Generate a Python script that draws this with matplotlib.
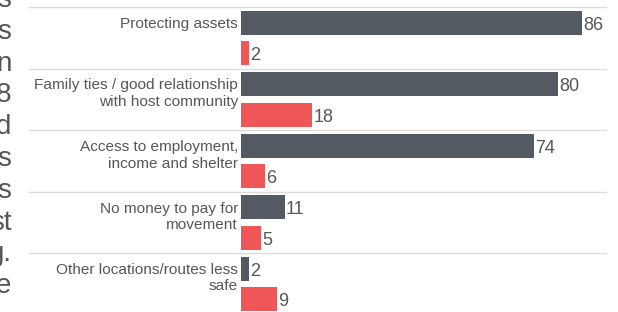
import matplotlib.pyplot as plt

plt.rcParams['font.family'] = ['Liberation Sans', 'DejaVu Sans']

# data
categories = ['Protecting assets',
              'Family ties / good relationship\nwith host community',
              'Access to employment,\nincome and shelter',
              'No money to pay for\nmovement',
              'Other locations/routes less\nsafe']
series_dark = [86, 80, 74, 11, 2]
series_red = [2, 18, 6, 5, 9]
# cut-off body text visible at the left edge of the screenshot
side_words = ['s', 's', 'n', '8', 'd', 's', 's', 'st', 'g.', 'e']

DARK = '#535a61'
RED = '#ef5657'
TXT = '#575757'

W, H = 618, 312
fig = plt.figure(figsize=(W / 100, H / 100), dpi=100)

# axes placed so that x=0 sits at the bars' left edge
x0, x1 = 241, 606
ax = fig.add_axes([x0 / W, 0, (x1 - x0) / W, 1])
px_per_unit = 3.965
pitch = 61.5          # pixels per category
top_off = 38 / pitch  # first group centre from top
ax.set_xlim(0, (x1 - x0) / px_per_unit)
ax.set_ylim((H - 38) / pitch, -top_off)
ax.axis('off')

off = 0.252
bh = 24 / pitch
ys = list(range(len(categories)))
ax.barh([y - off for y in ys], series_dark, height=bh, color=DARK)
ax.barh([y + off for y in ys], series_red, height=bh, color=RED)

# separators
for y in ys:
    ax.axhline(y - 0.5, xmin=(29 - x0) / (x1 - x0), xmax=1,
               color='#dcdcdc', lw=1.0, clip_on=False, zorder=0)

# value labels
dy = 7 / pitch
for y, v in zip(ys, series_dark):
    ax.text(v + 0.25, y - off + dy, str(v), ha='left', va='baseline',
            fontsize=13, color=TXT)
for y, v in zip(ys, series_red):
    ax.text(v + 0.25, y + off + dy, str(v), ha='left', va='baseline',
            fontsize=13, color=TXT)

# category labels, line by line
lab_x = -3 / px_per_unit
for y, cat in zip(ys, categories):
    for i, line in enumerate(cat.split('\n')):
        ax.text(lab_x, y - 10 / pitch + i * 16.5 / pitch, line,
                ha='right', va='baseline', fontsize=11.1, color=TXT)

# left-edge text fragments
for i, w in enumerate(side_words):
    base = 7 + 31.8 * i
    fig.text(11.5 / W, 1 - base / H, w, ha='right', va='baseline',
             fontsize=20, color='#555555')

fig.savefig('out.png', dpi=100, facecolor='white')
